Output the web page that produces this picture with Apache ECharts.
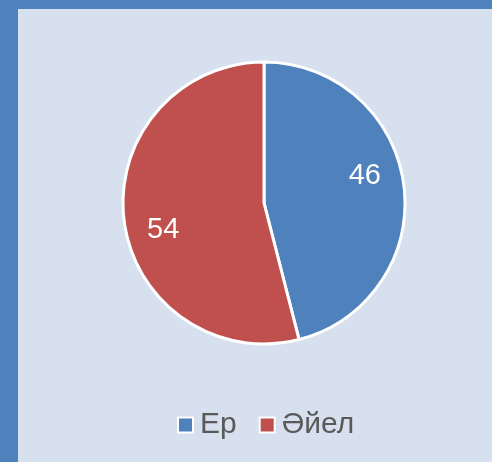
<!DOCTYPE html>
<html>
<head>
<meta charset="utf-8">
<script src="https://cdn.jsdelivr.net/npm/echarts@6/dist/echarts.min.js"></script>
<style>
  html, body { margin: 0; padding: 0; background: #4f81bd; }
  #frame { position: absolute; left: 18px; top: 9px; width: 474px; height: 453px; background: #d6e0ee; }
  #chart { width: 100%; height: 100%; }
</style>
</head>
<body>
<div id="frame"><div id="chart"></div></div>
<script>
const categories = ['Ер', 'Әйел']
const values = [46, 54]
const colors = ['#4f81bd', '#c0504d']

const chart = echarts.init(document.getElementById('chart'))
const pieData = categories.map((name, i) => ({ name, value: values[i], itemStyle: { color: colors[i] } }))
const font = 'Liberation Sans, Arial, sans-serif'

chart.setOption({
  animation: false,
  legend: {
    top: 396,
    left: 154,
    icon: 'rect',
    itemWidth: 15, itemHeight: 15,
    itemGap: 22,
    textStyle: { color: '#595959', fontFamily: font, fontSize: 30, padding: [0, 0, 0, 2] },
    data: categories.map((name, i) => ({
      name,
      itemStyle: { color: colors[i], borderColor: '#fff', borderWidth: 2 },
    })),
  },
  series: [
    {
      type: 'pie',
      center: [246, 194],
      radius: 141,
      startAngle: 90,
      data: pieData,
      label: { show: false },
      labelLine: { show: false },
      itemStyle: { borderColor: '#fff', borderWidth: 3 },
      emphasis: { disabled: true },
    },
    {
      // 透明的环，只为把数字放到外圈
      type: 'pie',
      center: [246, 194],
      radius: [62, 141],
      startAngle: 98,
      silent: true,
      legendHoverLink: false,
      data: categories.map((name, i) => ({ name, value: values[i] })),
      itemStyle: { color: 'transparent' },
      label: {
        show: true, position: 'inside', formatter: '{c}',
        color: '#fff', fontSize: 29, fontFamily: font,
      },
      labelLine: { show: false },
      emphasis: { disabled: true },
    },
  ],
})
</script>
</body>
</html>
